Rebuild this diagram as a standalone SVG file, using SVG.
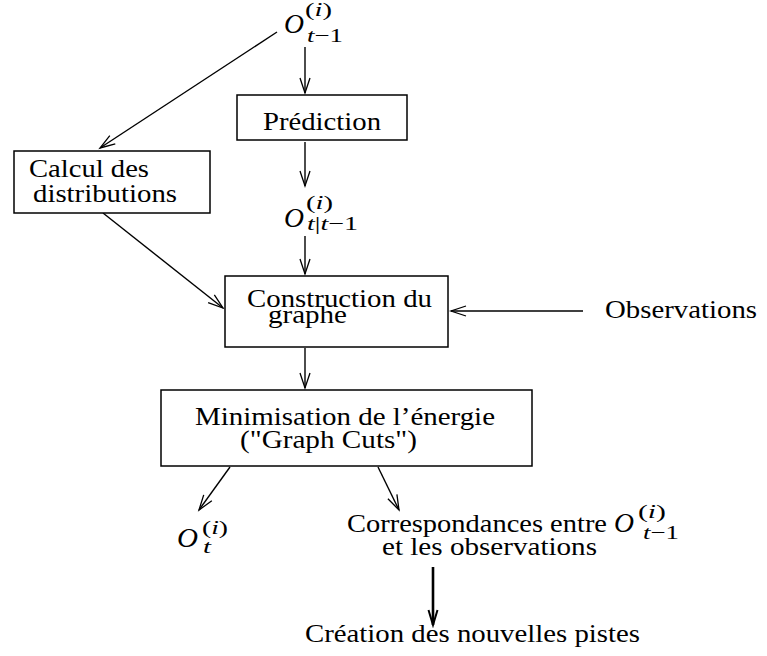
<svg xmlns="http://www.w3.org/2000/svg" width="767" height="656" viewBox="0 0 767 656">
<defs>
<marker id="ah" markerUnits="userSpaceOnUse" markerWidth="20" markerHeight="14" viewBox="-16 -7 18 14" refX="0" refY="0" orient="auto">
<path d="M-15,-5 L0,0 L-15,5" fill="none" stroke="#000" stroke-width="1.3"/>
</marker>
<marker id="ahb" markerUnits="userSpaceOnUse" markerWidth="20" markerHeight="14" viewBox="-16 -7 18 14" refX="0" refY="0" orient="auto">
<path d="M-15,-4.5 L0,0 L-15,4.5" fill="none" stroke="#000" stroke-width="2"/>
</marker>
</defs>
<style>
.box{fill:#fff;stroke:#000;stroke-width:1.5}
.t{font-family:"Liberation Serif","Times New Roman",serif;font-size:26px;fill:#000}
.m{font-family:"Liberation Serif","Times New Roman",serif;font-style:italic;fill:#000}
.mr{font-family:"Liberation Serif","Times New Roman",serif;fill:#000}
.c{fill:none;stroke:#000;stroke-width:1.4;marker-end:url(#ah)}
.cb{fill:none;stroke:#000;stroke-width:2.6;marker-end:url(#ahb)}
</style>
<rect width="767" height="656" fill="#fff"/>
<g id="connectors">
<line class="c" x1="305" y1="47" x2="305" y2="93"/>
<line class="c" x1="277" y1="32" x2="100" y2="148"/>
<line class="c" x1="305" y1="142" x2="305" y2="186"/>
<line class="c" x1="305" y1="236" x2="305" y2="274"/>
<line class="c" x1="103" y1="213" x2="223" y2="308"/>
<line class="c" x1="583" y1="311" x2="451" y2="311"/>
<line class="c" x1="305" y1="348" x2="305" y2="388"/>
<line class="c" x1="230" y1="467" x2="199" y2="510"/>
<line class="c" x1="378" y1="467" x2="399" y2="510"/>
<line class="cb" x1="433" y1="567" x2="433" y2="625"/>
</g>
<g id="o-t-1">
<text class="m" x="284" y="33" font-size="28" textLength="20" lengthAdjust="spacingAndGlyphs">O</text>
<text class="mr" x="305" y="16" font-size="19" textLength="27" lengthAdjust="spacingAndGlyphs">(<tspan font-style="italic">i</tspan>)</text>
<text class="m" x="307" y="42" font-size="19" textLength="36" lengthAdjust="spacingAndGlyphs">t<tspan font-style="normal">−1</tspan></text>
</g>
<g id="prediction">
<rect class="box" x="237" y="95" width="170" height="45"/>
<text class="t" x="263" y="130" textLength="118" lengthAdjust="spacingAndGlyphs">Prédiction</text>
</g>
<g id="o-t-given">
<text class="m" x="284" y="227" font-size="28" textLength="20" lengthAdjust="spacingAndGlyphs">O</text>
<text class="mr" x="306" y="209" font-size="19" textLength="27" lengthAdjust="spacingAndGlyphs">(<tspan font-style="italic">i</tspan>)</text>
<text class="m" x="307" y="230" font-size="19" textLength="51" lengthAdjust="spacingAndGlyphs">t<tspan font-style="normal">|</tspan>t<tspan font-style="normal">−1</tspan></text>
</g>
<g id="calcul">
<rect class="box" x="14" y="151" width="196" height="62"/>
<text class="t" x="29" y="177" textLength="120" lengthAdjust="spacingAndGlyphs">Calcul des</text>
<text class="t" x="33" y="202" textLength="144" lengthAdjust="spacingAndGlyphs">distributions</text>
</g>
<g id="construction">
<rect class="box" x="225" y="276" width="223" height="71"/>
<text class="t" x="247" y="307" textLength="185" lengthAdjust="spacingAndGlyphs">Construction du</text>
<text class="t" x="268" y="323" textLength="79" lengthAdjust="spacingAndGlyphs">graphe</text>
</g>
<g id="observations">
<text class="t" x="605" y="318" textLength="152" lengthAdjust="spacingAndGlyphs">Observations</text>
</g>
<g id="minimisation">
<rect class="box" x="161" y="390" width="371" height="76"/>
<text class="t" x="195" y="425" textLength="300" lengthAdjust="spacingAndGlyphs">Minimisation de l’énergie</text>
<text class="t" x="240" y="448" textLength="177" lengthAdjust="spacingAndGlyphs">("Graph Cuts")</text>
</g>
<g id="o-t">
<text class="m" x="177" y="547" font-size="28" textLength="21" lengthAdjust="spacingAndGlyphs">O</text>
<text class="mr" x="202" y="534" font-size="19" textLength="26" lengthAdjust="spacingAndGlyphs">(<tspan font-style="italic">i</tspan>)</text>
<text class="m" x="203" y="553" font-size="19" textLength="8" lengthAdjust="spacingAndGlyphs">t</text>
</g>
<g id="correspondances">
<text class="t" x="347" y="532" textLength="260" lengthAdjust="spacingAndGlyphs">Correspondances entre</text>
<text class="m" x="614" y="532" font-size="28" textLength="20" lengthAdjust="spacingAndGlyphs">O</text>
<text class="mr" x="638" y="518" font-size="19" textLength="28" lengthAdjust="spacingAndGlyphs">(<tspan font-style="italic">i</tspan>)</text>
<text class="m" x="643" y="539" font-size="19" textLength="36" lengthAdjust="spacingAndGlyphs">t<tspan font-style="normal">−1</tspan></text>
<text class="t" x="382" y="555" textLength="215" lengthAdjust="spacingAndGlyphs">et les observations</text>
</g>
<g id="creation">
<text class="t" x="305" y="642" textLength="335" lengthAdjust="spacingAndGlyphs">Création des nouvelles pistes</text>
</g>
</svg>
